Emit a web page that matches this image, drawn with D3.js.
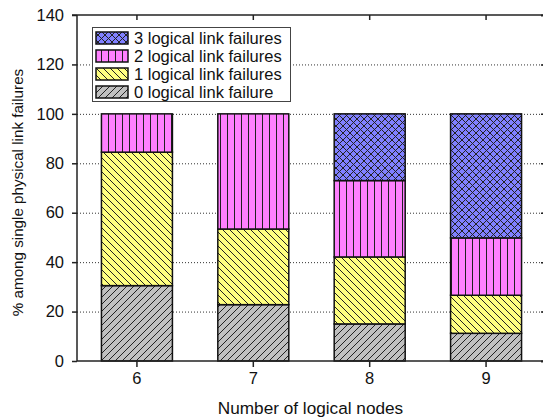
<!DOCTYPE html>
<html>
<head>
<meta charset="utf-8">
<script src="https://cdn.jsdelivr.net/npm/d3@7"></script>
<style>
  body { margin: 0; background: #fff; }
  svg { display: block; font-family: "Liberation Sans", Arial, sans-serif; }
</style>
</head>
<body>
<svg id="chart" width="543" height="419"></svg>
<script>
// Number of logical nodes on the x axis
const categories = ["6", "7", "8", "9"];
// Share (%) of single physical link failures, stacked bottom to top
const zeroFailures  = [30.5, 22.8, 15.0, 11.2];
const oneFailures   = [54.0, 30.6, 27.1, 15.4];
const twoFailures   = [15.5, 46.6, 30.9, 23.2];
const threeFailures = [0, 0, 27.0, 50.2];
const seriesNames = ["0 logical link failure", "1 logical link failures", "2 logical link failures", "3 logical link failures"];
const yTicks = [0, 20, 40, 60, 80, 100, 120, 140];

const seriesValues = [zeroFailures, oneFailures, twoFailures, threeFailures];
const fills = ["#c0c0c0", "#ffff80", "#ff80ff", "#8080ff"];

const svg = d3.select("#chart");
const margin = { left: 77, right: 546, top: 15, bottom: 361 };

const x = d3.scaleBand().domain(categories)
  .range([margin.left, margin.right]).paddingInner(0.39).paddingOuter(0.21);
const y = d3.scaleLinear().domain([0, 140]).range([margin.bottom, margin.top]);

// Hatch patterns for each series
const defs = svg.append("defs");
function pattern(id, bg, draw) {
  const p = defs.append("pattern").attr("id", id)
    .attr("patternUnits", "userSpaceOnUse").attr("width", 7).attr("height", 7);
  p.append("rect").attr("width", 7).attr("height", 7).attr("fill", bg);
  draw(p);
}
function line(p, x1, y1, x2, y2) {
  p.append("line").attr("x1", x1).attr("y1", y1).attr("x2", x2).attr("y2", y2)
    .attr("stroke", "#222").attr("stroke-width", 1);
}
pattern("pat0", fills[0], p => { line(p, -1, 8, 8, -1); line(p, -1, 1, 1, -1); line(p, 6, 8, 8, 6); });
pattern("pat1", fills[1], p => { line(p, -1, -1, 8, 8); line(p, 6, -1, 8, 1); line(p, -1, 6, 1, 8); });
pattern("pat2", fills[2], p => { line(p, 3.5, 0, 3.5, 7); });
pattern("pat3", fills[3], p => { line(p, -1, -1, 8, 8); line(p, -1, 8, 8, -1); line(p, 6, -1, 8, 1); line(p, -1, 6, 1, 8); line(p, -1, 1, 1, -1); line(p, 6, 8, 8, 6); });

// Dotted gridlines
svg.append("g").selectAll("line").data(yTicks.filter(t => t > 0 && t < 140)).join("line")
  .attr("x1", margin.left).attr("x2", margin.right)
  .attr("y1", d => y(d) + 0.5).attr("y2", d => y(d) + 0.5)
  .attr("stroke", "#333").attr("stroke-width", 1).attr("stroke-dasharray", "1,2");

// Stacked bars
const rows = categories.map((c, i) => {
  const r = { cat: c };
  seriesValues.forEach((s, k) => r["s" + k] = s[i]);
  return r;
});
const stack = d3.stack().keys(seriesValues.map((_, k) => "s" + k))(rows);
const barGroup = svg.append("g");
stack.forEach((layer, k) => {
  barGroup.append("g").selectAll("rect").data(layer.filter(d => d[1] - d[0] > 0)).join("rect")
    .attr("x", d => x(d.data.cat))
    .attr("width", x.bandwidth())
    .attr("y", d => y(d[1]))
    .attr("height", d => y(d[0]) - y(d[1]))
    .attr("fill", `url(#pat${k})`)
    .attr("stroke", "#111").attr("stroke-width", 1.5);
});

// Axes
const axisColor = "#222";
const yAxis = svg.append("g").attr("transform", `translate(${margin.left},0)`)
  .call(d3.axisLeft(y).tickValues(yTicks).tickSize(5).tickPadding(8));
const xAxis = svg.append("g").attr("transform", `translate(0,${margin.bottom})`)
  .call(d3.axisBottom(x).tickSize(6).tickPadding(5));
const xTop = svg.append("g").attr("transform", `translate(0,${margin.top})`)
  .call(d3.axisTop(x).tickSize(-5).tickFormat(""));
const yRight = svg.append("g").attr("transform", `translate(${margin.right},0)`)
  .call(d3.axisRight(y).tickValues(yTicks).tickSize(-5).tickFormat(""));
[yAxis, xAxis, xTop, yRight].forEach(g => {
  g.select(".domain").attr("stroke", axisColor).attr("stroke-width", 1.5);
  g.selectAll(".tick line").attr("stroke", axisColor).attr("stroke-width", 1.5);
  g.selectAll("text").attr("font-size", 16.5).attr("fill", "#111")
    .attr("font-family", "Liberation Sans, Arial, sans-serif");
});
yAxis.select(".domain").attr("d", `M0,${margin.bottom}V${margin.top}`);
xAxis.select(".domain").attr("d", `M${margin.left},0H${margin.right}`);
xTop.select(".domain").attr("d", `M${margin.left - 5},0H${margin.right}`);

// Axis titles
svg.append("text").attr("x", (margin.left + margin.right) / 2 - 1).attr("y", 414)
  .attr("text-anchor", "middle").attr("font-size", 17.2).attr("fill", "#111")
  .text("Number of logical nodes");
svg.append("text").attr("transform", `translate(23,192.5) rotate(-90)`)
  .attr("text-anchor", "middle").attr("font-size", 15.2).attr("fill", "#111")
  .text("% among single physical link failures");

// Legend, top series first
const legend = svg.append("g");
legend.append("rect").attr("x", 92.5).attr("y", 27.5).attr("width", 198).attr("height", 74)
  .attr("fill", "#fff").attr("stroke", "#444").attr("stroke-width", 1);
const order = [3, 2, 1, 0];
order.forEach((k, i) => {
  const cy = 38 + i * 18;
  legend.append("rect").attr("x", 96).attr("y", cy - 6).attr("width", 32).attr("height", 12)
    .attr("fill", `url(#pat${k})`).attr("stroke", "#111").attr("stroke-width", 1.5);
  legend.append("text").attr("x", 134).attr("y", cy + 6).attr("font-size", 16.5).attr("fill", "#111")
    .text(seriesNames[k]);
});
</script>
</body>
</html>
